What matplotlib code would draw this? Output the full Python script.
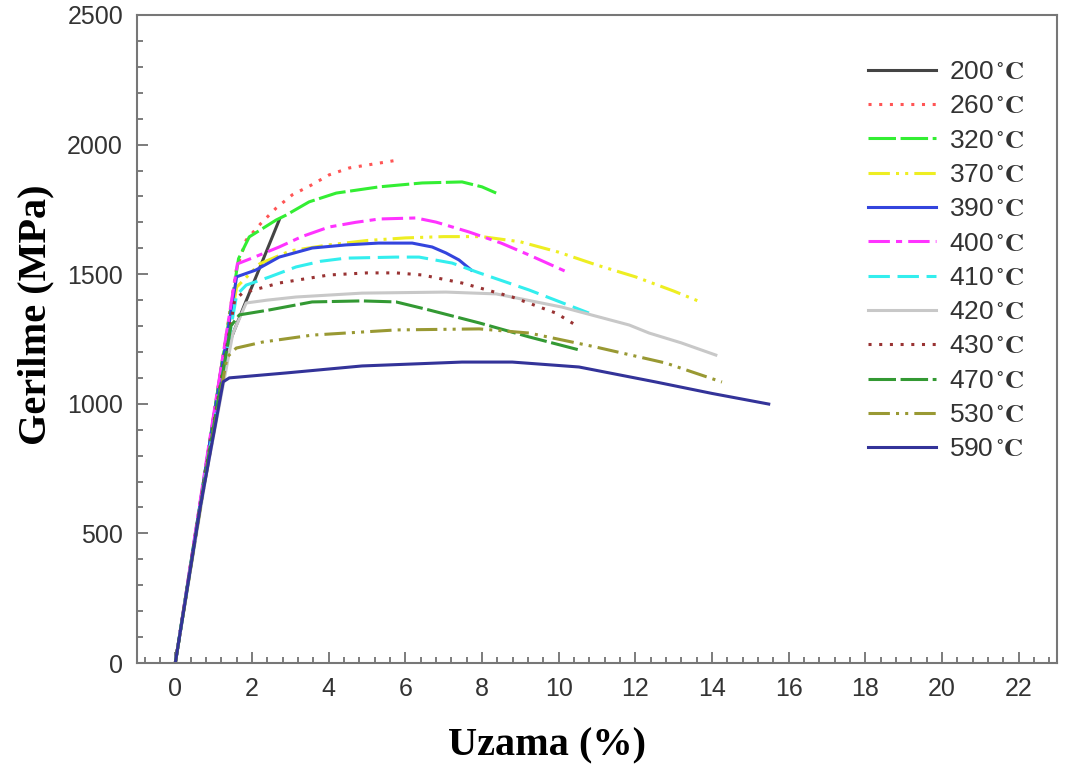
import matplotlib
matplotlib.use("Agg")
import matplotlib.pyplot as plt
from matplotlib.ticker import MultipleLocator

plt.rcParams['font.family'] = ['Liberation Sans', 'DejaVu Sans']
plt.rcParams['mathtext.fontset'] = 'stix'

# temperatures (legend order)
temps = ['200', '260', '320', '370', '390', '400', '410', '420', '430', '470', '530', '590']

# strain (%) / stress (MPa)
x200 = [0, 0.6, 1.23, 1.8, 2.3, 2.71]
y200 = [0, 560, 1169, 1380, 1560, 1709]

x260 = [0, 0.8, 1.59, 1.85, 2.24, 2.63, 3.05, 3.55, 4.01, 4.54, 5.0, 5.5, 5.79]
y260 = [0, 760, 1516, 1632, 1697, 1755, 1806, 1844, 1883, 1910, 1921, 1933, 1940]

x320 = [0, 0.8, 1.65, 1.93, 2.63, 2.89, 3.49, 4.2, 5.32, 6.44, 7.48, 8.0, 8.37]
y320 = [0, 760, 1560, 1644, 1709, 1728, 1779, 1813, 1837, 1852, 1856, 1837, 1813]

x370 = [0, 0.8, 1.6, 2.2, 3.0, 4.0, 5.0, 6.0, 7.0, 8.0, 9.0, 10.0, 11.0, 12.0, 13.0, 13.7]
y370 = [0, 750, 1450, 1540, 1590, 1613, 1630, 1640, 1645, 1645, 1625, 1585, 1535, 1490, 1435, 1393]

x390 = [0, 0.8, 1.6, 2.1, 2.71, 3.57, 4.45, 5.3, 6.18, 6.7, 7.06, 7.4, 7.72]
y390 = [0, 760, 1490, 1516, 1566, 1601, 1613, 1620, 1620, 1605, 1582, 1555, 1516]

x400 = [0, 0.8, 1.62, 2.0, 2.71, 3.3, 4.01, 4.7, 5.32, 6.28, 6.8, 7.66, 8.5, 9.23, 10.27]
y400 = [0, 770, 1540, 1562, 1605, 1645, 1682, 1700, 1713, 1717, 1701, 1663, 1620, 1574, 1505]

x410 = [0, 0.8, 1.6, 1.85, 2.45, 3.15, 3.8, 4.45, 5.76, 6.36, 7.22, 7.93, 9.23, 10.79]
y410 = [0, 740, 1420, 1458, 1489, 1528, 1550, 1562, 1566, 1566, 1543, 1505, 1439, 1350]

x420 = [0, 0.8, 1.5, 1.85, 2.4, 3.15, 4.87, 7.06, 8.37, 10.09, 11.84, 12.36, 13.2, 14.1]
y420 = [0, 720, 1270, 1389, 1400, 1412, 1427, 1431, 1424, 1373, 1304, 1273, 1235, 1188]

x430 = [0, 0.8, 1.55, 1.75, 2.71, 4.01, 5.0, 5.76, 6.44, 7.48, 8.79, 9.93, 10.53]
y430 = [0, 750, 1400, 1427, 1466, 1497, 1505, 1505, 1497, 1466, 1412, 1350, 1296]

x470 = [0, 0.8, 1.45, 1.67, 2.45, 3.57, 4.87, 5.76, 6.62, 7.93, 9.23, 10.53]
y470 = [0, 740, 1300, 1343, 1362, 1393, 1397, 1393, 1362, 1312, 1258, 1208]

x530 = [0, 0.7, 1.35, 1.59, 2.27, 3.57, 5.76, 7.93, 9.23, 10.97, 12.8, 14.26]
y530 = [0, 640, 1180, 1215, 1238, 1265, 1285, 1289, 1273, 1219, 1157, 1084]

x590 = [0, 0.65, 1.25, 1.41, 2.89, 4.87, 7.48, 8.79, 10.53, 12.54, 14.0, 15.48]
y590 = [0, 600, 1085, 1100, 1119, 1146, 1161, 1161, 1142, 1084, 1040, 999]

xs = [x200, x260, x320, x370, x390, x400, x410, x420, x430, x470, x530, x590]
ys = [y200, y260, y320, y370, y390, y400, y410, y420, y430, y470, y530, y590]

colors = ['#444444', '#ff5555', '#33ee33', '#eeee22', '#3344dd', '#ff33ff',
          '#33eeee', '#c8c8c8', '#993333', '#339933', '#999933', '#333399']
styles = ['-', (0, (1, 2.5)), (0, (9, 1.5)), (0, (7, 2, 1, 2, 1, 2)), '-',
          (0, (7, 2, 2, 2)), (0, (7, 2.5)), '-', (0, (1, 2.5)), (0, (9, 1.5)),
          (0, (7, 2, 1, 2, 1, 2)), '-']

fig = plt.figure(figsize=(10.65, 7.73), dpi=100)
ax = fig.add_axes([0.1286, 0.1423, 0.8639, 0.8383])

for i in range(len(temps)):
    ax.plot(xs[i], ys[i], color=colors[i], linestyle=styles[i], linewidth=2.2,
            label=temps[i] + r'$\,^{\circ}\mathbf{C}$')

ax.set_xlim(-1, 23)
ax.set_ylim(0, 2500)
ax.xaxis.set_major_locator(MultipleLocator(2))
ax.xaxis.set_minor_locator(MultipleLocator(0.4))
ax.yaxis.set_major_locator(MultipleLocator(500))
ax.yaxis.set_minor_locator(MultipleLocator(100))

ax.tick_params(which='both', direction='in', top=False, right=False,
               color='#666666', width=1.2, labelcolor='#333333', labelsize=18)
ax.tick_params(which='major', length=8, pad=10)
ax.tick_params(which='minor', length=4)
for sp in ax.spines.values():
    sp.set_color('#777777')
    sp.set_linewidth(1.5)

ax.set_xlabel('Uzama (%)', family='Liberation Serif', fontweight='bold', fontsize=29)
ax.set_ylabel('Gerilme (MPa)', family='Liberation Serif', fontweight='bold', fontsize=29)
ax.xaxis.set_label_coords(0.446, -0.1)
ax.yaxis.set_label_coords(-0.09, 0.537)

leg = ax.legend(loc='upper right', bbox_to_anchor=(0.99, 0.967), frameon=False,
                fontsize=19, handlelength=2.55, labelspacing=0.39, handletextpad=0.5)
for t in leg.get_texts():
    t.set_color('#333333')

fig.savefig('out.png', dpi=100)
